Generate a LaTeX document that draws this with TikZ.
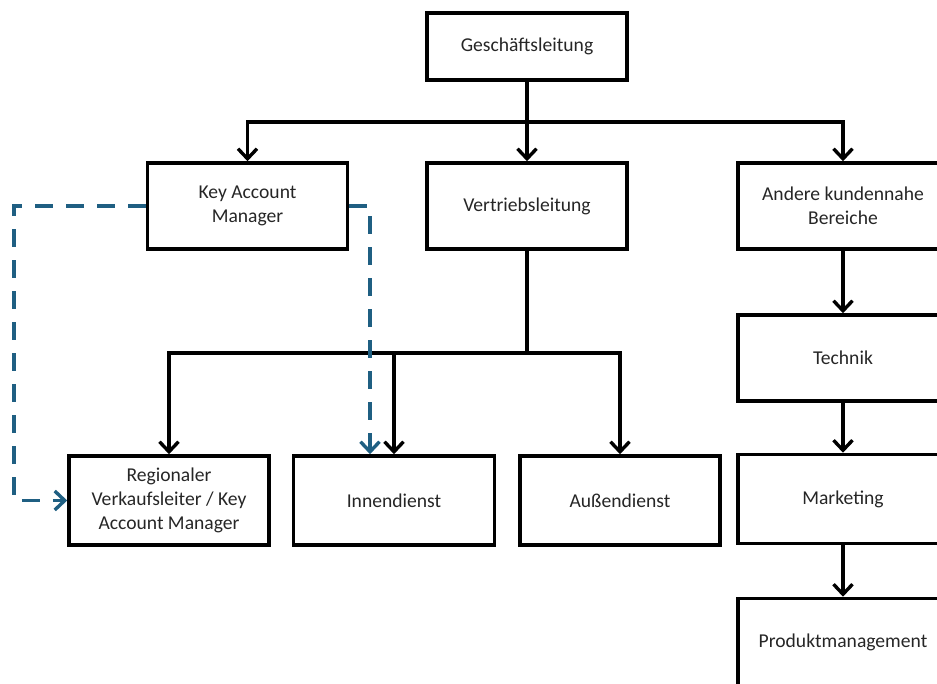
\documentclass[tikz,border=0pt]{standalone}
\usepackage{fontspec}
\setmainfont{Carlito}
\usetikzlibrary{arrows.meta}
\definecolor{linkblue}{HTML}{1F5F82}
\definecolor{textgray}{HTML}{262626}
\tikzset{
  orgbox/.style={draw=black, line width=3.6pt, rectangle, inner sep=0pt,
    minimum width=200pt, minimum height=86pt, align=center,
    text=textgray, font=\fontsize{19.6}{24}\selectfont},
  sidebox/.style={orgbox, minimum width=210pt},
  link/.style={line width=3.6pt, black,
    -{Straight Barb[length=10pt,width=19pt,line width=3.4pt]}},
  dotlink/.style={line width=3.6pt, linkblue, dash pattern=on 18pt off 13pt,
    -{Straight Barb[length=10pt,width=19pt,line width=3.4pt]}}
}
\begin{document}
\begin{tikzpicture}[x=1pt,y=-1pt]
\useasboundingbox (0,0) rectangle (937,684);

% boxes
\node[orgbox, minimum height=67pt] (G) at (527,46.5) {Geschäftsleitung};
\node[orgbox] (KAM) at (247.5,206) {Key Account\\Manager};
\node[orgbox] (V) at (527,206) {Vertriebsleitung};
\node[sidebox] (A) at (843,206) {Andere kundennahe\\Bereiche};
\node[sidebox] (T) at (843,358) {Technik};
\node[sidebox, minimum height=89pt] (M) at (843,499) {Marketing};
\node[sidebox, minimum height=87pt] (P) at (843,642) {Produktmanagement};
\node[orgbox, minimum height=89pt] (R) at (169,500.5) {Regionaler\\Verkaufsleiter / Key\\Account Manager};
\node[orgbox, minimum width=201pt, minimum height=89pt] (I) at (394,500.5) {Innendienst};
\node[orgbox, minimum height=89pt] (AU) at (620,500.5) {Außendienst};

% bus levels and dashed routing columns
\coordinate (bus1) at (0,122);
\coordinate (bus2) at (0,353);
\coordinate (dL) at (14,0);
\coordinate (dR) at (370,0);

% management level
\draw[link] (G.south) -- (G.south |- bus1) -| (KAM.north);
\draw[link] (G.south) -- (V.north);
\draw[link] (G.south) -- (G.south |- bus1) -| (A.north);

% sales branch
\draw[link] (V.south) -- (V.south |- bus2) -| (R.north);
\draw[link] (V.south) -- (V.south |- bus2) -| (I.north);
\draw[link] (V.south) -- (V.south |- bus2) -| (AU.north);

% customer-facing chain
\draw[link] (A.south) -- (T.north);
\draw[link] (T.south) -- (M.north);
\draw[link] (M.south) -- (P.north);

% key account lines
\draw[dotlink] (KAM.west) -- (KAM.west -| dL) -- (dL |- R.west) -- (R.west);
\draw[dotlink] (KAM.east) -- (KAM.east -| dR) -- (dR |- I.north);
\end{tikzpicture}
\end{document}
